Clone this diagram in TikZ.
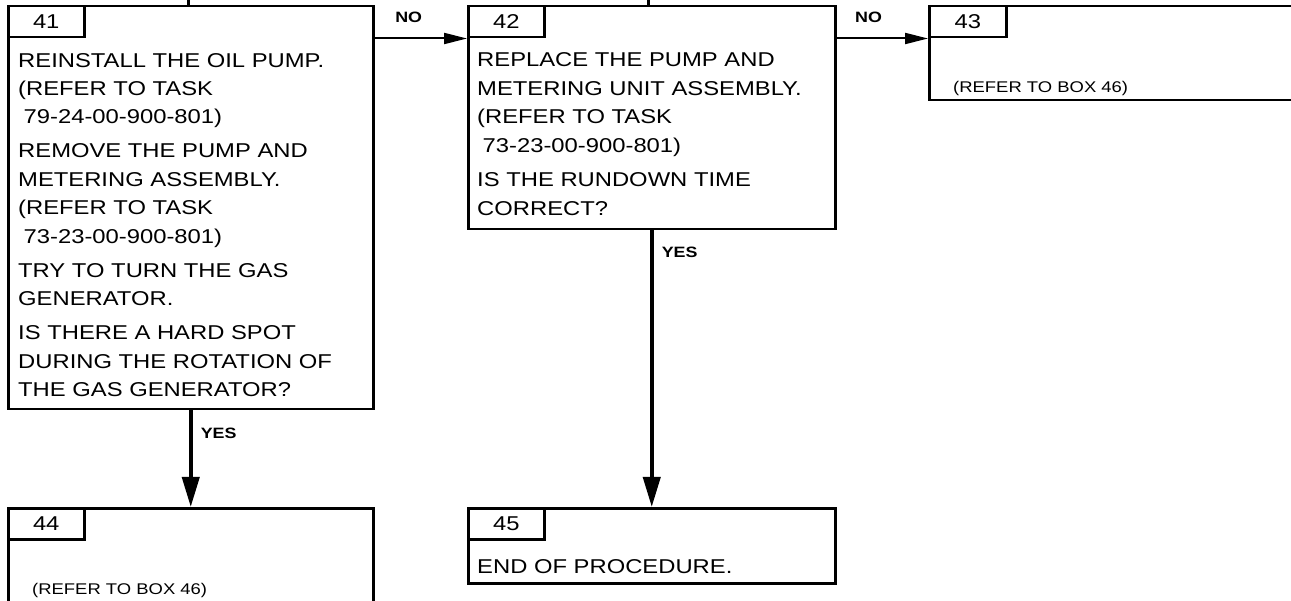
\documentclass[tikz,border=0pt]{standalone}
\usepackage{fontspec}
\setmainfont{Liberation Sans}[FakeStretch=1.19]
\usetikzlibrary{arrows.meta}
\begin{document}
\begin{tikzpicture}[x=1pt,y=-1pt,
  box/.style={draw, line width=2.5pt, rectangle, anchor=north west, inner sep=0pt},
  tab/.style={box, minimum width=76pt, minimum height=31pt, font=\fontsize{20}{24}\selectfont},
  txt/.style={anchor=base west, inner sep=0pt, align=left, font=\fontsize{20}{28.5}\selectfont},
  small/.style={anchor=base west, inner sep=0pt, font=\fontsize{15.5}{18}\selectfont},
  lbl/.style={inner sep=0pt, font=\fontsize{15}{18}\selectfont\bfseries},
  hno/.style={line width=2pt, -{Triangle[length=23pt,width=11pt]}},
  vyes/.style={line width=4pt, -{Triangle[length=30pt,width=17pt]}},
  stub/.style={line width=3pt}
]
\useasboundingbox (0,0) rectangle (1291,601);
\clip (0,0) rectangle (1291,601);
\fill[white] (0,0) rectangle (1291,601);

% boxes
\node[box, minimum width=365pt, minimum height=403pt] (b41) at (7,5) {};
\node[tab] (t41) at (7,5) {41};
\node[box, minimum width=367pt, minimum height=223pt] (b42) at (467,5) {};
\node[tab] (t42) at (467,5) {42};
\node[box, minimum width=400pt, minimum height=94pt] (b43) at (928,5) {};
\node[tab, minimum width=77pt] (t43) at (928,5) {43};
\node[box, minimum width=365pt, minimum height=93.5pt] (b44) at (7,507) {};
\node[tab] (t44) at (7,507) {44};
\node[box, minimum width=367pt, minimum height=75pt] (b45) at (467,507) {};
\node[tab] (t45) at (467,507) {45};

% texts (base anchor = baseline of the last line)
\node[txt] (x41) at (18,397) {REINSTALL THE OIL PUMP.\\
(REFER TO TASK\\
\hspace*{5.5pt}79-24-00-900-801)\\[5.5pt]
REMOVE THE PUMP AND\\
METERING ASSEMBLY.\\
(REFER TO TASK\\
\hspace*{5.5pt}73-23-00-900-801)\\[5.5pt]
TRY TO TURN THE GAS\\
GENERATOR.\\[5.5pt]
IS THERE A HARD SPOT\\
DURING THE ROTATION OF\\
THE GAS GENERATOR?};
\node[txt] (x42) at (477,215.5) {REPLACE THE PUMP AND\\
METERING UNIT ASSEMBLY.\\
(REFER TO TASK\\
\hspace*{5.5pt}73-23-00-900-801)\\[6pt]
IS THE RUNDOWN TIME\\
CORRECT?};
\node[small] (x43) at (953,92.5) {(REFER TO BOX 46)};
\node[small] (x44) at (32,594) {(REFER TO BOX 46)};
\node[txt] (x45) at (477,573) {END OF PROCEDURE.};

% incoming stubs from above
\coordinate (s41) at (188,-3);
\coordinate (s42) at (648,-3);
\draw[stub] (s41) -- (s41 |- b41.north);
\draw[stub] (s42) -- (s42 |- b42.north);

% connectors
\draw[hno] (t41.south -| b41.east) -- node[lbl, pos=0.37, anchor=base, yshift=16pt] {NO} (t42.south -| b42.west);
\draw[hno] (t42.south -| b42.east) -- node[lbl, pos=0.35, anchor=base, yshift=16pt] {NO} (t43.south -| b43.west);
\draw[vyes] (b41.south) -- node[lbl, pos=0.24, anchor=west, xshift=8pt] {YES} (b44.north);
\draw[vyes] (b42.south) -- node[lbl, pos=0.08, anchor=west, xshift=8pt] {YES} (b45.north);
\end{tikzpicture}
\end{document}
